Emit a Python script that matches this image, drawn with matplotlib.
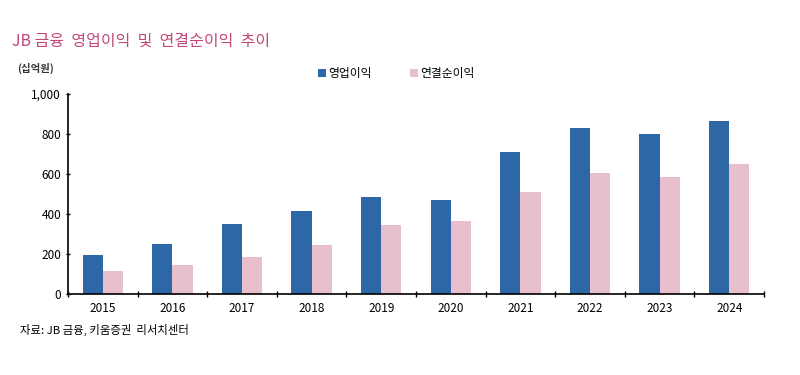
import numpy as np
import matplotlib
matplotlib.use("Agg")
import matplotlib.pyplot as plt

plt.rcParams['font.family'] = ['Noto Sans CJK KR', 'DejaVu Sans']

years = ['2015', '2016', '2017', '2018', '2019', '2020', '2021', '2022', '2023', '2024']
op_income = [195, 250, 350, 415, 485, 470, 710, 830, 800, 865]
net_income = [115, 145, 185, 245, 345, 365, 510, 605, 585, 650]

blue = '#2d67a6'
pink = '#e8bfcd'

fig = plt.figure(figsize=(8, 3.75), dpi=100)
ax = fig.add_axes([0.085, 0.216, 0.87, 0.533])

x = np.arange(len(years))
w = 0.29
ax.bar(x - w / 2, op_income, w, color=blue, label='영업이익')
ax.bar(x + w / 2, net_income, w, color=pink, label='연결순이익')

ax.set_xlim(-0.5, len(years) - 0.5)
ax.set_ylim(0, 1000)
ax.set_yticks(range(0, 1001, 200))
ax.set_yticklabels(['0', '200', '400', '600', '800', '1,000'])
ax.set_xticks(x)
ax.set_xticklabels(years)
ax.set_xticks(np.arange(-0.5, len(years)), minor=True)
ax.tick_params(axis='x', which='major', length=0, labelsize=8.5, pad=6)
ax.tick_params(axis='x', which='minor', length=4, direction='inout', width=1)
ax.tick_params(axis='y', length=3, direction='inout', labelsize=8.5, width=1)

for s in ['top', 'right']:
    ax.spines[s].set_visible(False)
ax.spines['left'].set_linewidth(1.2)
ax.spines['bottom'].set_linewidth(1.2)

fig.text(0.015, 0.89, 'JB 금융  영업이익  및  연결순이익  추이', color='#c2477a', fontsize=11.5, va='center')
fig.text(0.022, 0.818, '(십억원)', fontsize=7.5, va='center', fontweight='bold', color='#333333')
fig.text(0.025, 0.12, '자료: JB 금융, 키움증권  리서치센터', fontsize=8.2, va='center')

ax.legend(loc='upper center', bbox_to_anchor=(0.472, 1.19), ncol=2, frameon=False,
          fontsize=8.5, handlelength=0.7, handleheight=0.7, handletextpad=0.2, columnspacing=3.2)

fig.savefig('out.png', dpi=100)
